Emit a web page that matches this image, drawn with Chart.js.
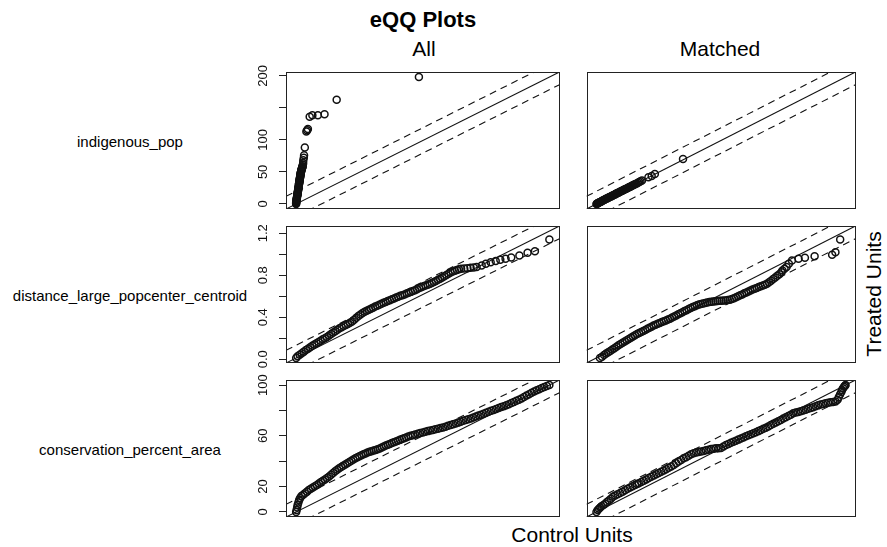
<!DOCTYPE html>
<html>
<head>
<meta charset="utf-8">
<script src="https://cdn.jsdelivr.net/npm/chart.js@4.4.1/dist/chart.umd.min.js"></script>
<style>
  html, body { margin: 0; padding: 0; background: #fff; }
  #wrap { position: relative; width: 887px; height: 547px; overflow: hidden;
          font-family: "Liberation Sans", Arial, Helvetica, sans-serif; color: #000; }
  #wrap canvas { position: absolute; }
  .lbl { position: absolute; white-space: nowrap; line-height: 1; transform: translate(-50%, -50%); }
</style>
</head>
<body>
<div id="wrap">
  <div class="lbl" style="left:423px; top:20px; font-size:22px; font-weight:bold;">eQQ Plots</div>
  <div class="lbl" style="left:424px; top:48px; font-size:21px;">All</div>
  <div class="lbl" style="left:720px; top:48px; font-size:21px;">Matched</div>
  <div class="lbl" style="left:572px; top:534px; font-size:21px;">Control Units</div>
  <div class="lbl" style="left:873px; top:294px; font-size:21px; transform: translate(-50%, -50%) rotate(-90deg);">Treated Units</div>
</div>
<script>
// Covariates shown, one per row
const variables = ['indigenous_pop', 'distance_large_popcenter_centroid', 'conservation_percent_area'];
const sampleNames = ['All', 'Matched'];

// Y-axis ticks per covariate (blank label = tick mark only)
const indigenousTicks = [0, 50, 100, 150, 200];
const indigenousTickLabels = ['0', '50', '100', '', '200'];
const distanceTicks = [0, 0.2, 0.4, 0.6, 0.8, 1.0, 1.2];
const distanceTickLabels = ['0.0', '', '0.4', '', '0.8', '', '1.2'];
const conservationTicks = [0, 20, 40, 60, 80, 100];
const conservationTickLabels = ['0', '20', '', '60', '', '100'];

// Empirical quantile pairs: [control quantile, treated quantile]
const indigenousAll = [
  [0,0],[0,1],[0,2],[0.1,3],[0.2,4],[0.2,5],[0.3,6],[0.4,7],[0.5,8],[0.6,9],[0.6,10],[0.8,12],
  [0.9,13],[1,14],[1,15],[1.1,16],[1.2,17],[1.3,18],[1.4,19],[1.4,20],[1.6,22],[1.7,23],[1.8,24],
  [1.8,25],[1.9,26],[2,27],[2.1,28],[2.2,30],[2.2,31],[2.3,32],[2.4,33],[2.5,34],[2.6,35],[2.6,36],
  [2.7,37],[2.8,38],[2.9,39],[3,40],[3,41],[3.1,42],[3.2,43],[3.3,44],[3.4,45],[3.4,46],[3.5,47],
  [3.6,48],[3.7,49],[3.8,50],[3.9,51],[4,52],[4.2,53],[4.3,54],[4.5,55],[4.6,56],[4.8,57],[4.9,58],
  [5.1,59],[5.3,61],[5.5,64],[5.6,68],[6,72],[6.2,76],[6.8,88],[8,113],[8.6,115],[9.2,117],
  [10.6,136],[12.7,138.5],[17,138.5],[22.2,140],[31.7,162.5],[96,198]
];
const indigenousMatched = [
  [0,0],[0.3,0.4],[0.8,0.6],[1,1.2],[1.5,1.6],[2,2.2],[2.5,2.6],[3,3.1],[3.6,3.4],[4,4.2],[4.6,4.8],
  [5.2,5.3],[5.8,6.1],[6.4,6.6],[7,7.2],[7.6,7.9],[8.2,8.3],[8.8,9],[9.4,9.6],[10,10.3],[10.7,10.8],
  [11.3,11.5],[12,12.1],[12.6,12.8],[13.2,13.5],[13.9,14],[14.5,14.8],[15.2,15.3],[15.8,16.1],
  [16.5,16.6],[17.1,17.4],[17.8,18],[18.5,18.6],[19.1,19.5],[19.8,20],[20.5,20.6],[21.2,21.4],
  [21.9,22],[22.6,22.8],[23.3,23.4],[24,24.2],[24.8,24.8],[25.5,25.6],[26.2,26.4],[27,27],
  [27.8,27.9],[28.6,28.7],[29.4,29.5],[30.2,30.4],[31,31.2],[32,32],[33,33.1],[34,34.2],[35,35.3],
  [36.2,36.4],[41.3,41.6],[43.9,43.6],[46.4,46.7],[68.8,70.1]
];
const distanceAll = [
  [0.013,0.013],[0.02,0.028],[0.03,0.044],[0.04,0.058],[0.05,0.073],[0.06,0.088],[0.07,0.1],
  [0.08,0.114],[0.09,0.128],[0.1,0.14],[0.11,0.152],[0.12,0.165],[0.13,0.177],[0.14,0.19],
  [0.15,0.201],[0.16,0.213],[0.17,0.226],[0.18,0.24],[0.19,0.254],[0.2,0.268],[0.21,0.282],
  [0.22,0.295],[0.23,0.306],[0.24,0.317],[0.25,0.327],[0.26,0.337],[0.27,0.348],[0.28,0.361],
  [0.29,0.377],[0.3,0.396],[0.31,0.413],[0.32,0.427],[0.33,0.44],[0.34,0.452],[0.35,0.462],
  [0.36,0.472],[0.37,0.482],[0.38,0.492],[0.39,0.502],[0.4,0.511],[0.41,0.52],[0.42,0.53],
  [0.43,0.538],[0.44,0.546],[0.45,0.555],[0.46,0.563],[0.47,0.571],[0.48,0.579],[0.49,0.588],
  [0.5,0.596],[0.51,0.604],[0.52,0.611],[0.53,0.618],[0.54,0.626],[0.55,0.634],[0.56,0.642],
  [0.57,0.65],[0.58,0.658],[0.59,0.668],[0.6,0.678],[0.61,0.687],[0.62,0.695],[0.63,0.703],
  [0.64,0.71],[0.65,0.718],[0.66,0.727],[0.67,0.736],[0.68,0.746],[0.69,0.757],[0.7,0.768],
  [0.71,0.779],[0.72,0.79],[0.73,0.803],[0.74,0.815],[0.75,0.826],[0.76,0.836],[0.77,0.844],
  [0.78,0.851],[0.79,0.857],[0.8,0.862],[0.815,0.865],[0.83,0.868],[0.845,0.871],[0.86,0.874],
  [0.874,0.878],[0.898,0.894],[0.918,0.91],[0.941,0.925],[0.965,0.935],[0.987,0.948],
  [1.012,0.957],[1.039,0.97],[1.078,0.989],[1.117,1.014],[1.152,1.029],[1.221,1.14]
];
const distanceMatched = [
  [0.03,0.013],[0.04,0.025],[0.05,0.04],[0.06,0.055],[0.07,0.068],[0.08,0.08],[0.09,0.093],
  [0.1,0.105],[0.11,0.12],[0.12,0.134],[0.13,0.146],[0.14,0.158],[0.15,0.17],[0.16,0.182],
  [0.17,0.194],[0.18,0.206],[0.19,0.218],[0.2,0.23],[0.21,0.24],[0.22,0.25],[0.23,0.26],
  [0.24,0.27],[0.25,0.28],[0.26,0.29],[0.27,0.3],[0.28,0.311],[0.29,0.321],[0.3,0.33],
  [0.31,0.338],[0.32,0.346],[0.33,0.354],[0.34,0.362],[0.35,0.37],[0.36,0.378],[0.37,0.387],
  [0.38,0.397],[0.39,0.407],[0.4,0.418],[0.41,0.428],[0.42,0.439],[0.43,0.449],[0.44,0.459],
  [0.45,0.468],[0.46,0.478],[0.47,0.488],[0.48,0.497],[0.49,0.506],[0.5,0.514],[0.51,0.521],
  [0.52,0.527],[0.53,0.532],[0.54,0.537],[0.55,0.541],[0.56,0.545],[0.57,0.548],[0.58,0.551],
  [0.59,0.553],[0.6,0.555],[0.61,0.557],[0.62,0.558],[0.63,0.559],[0.64,0.561],[0.65,0.564],
  [0.66,0.568],[0.67,0.574],[0.68,0.581],[0.69,0.59],[0.7,0.6],[0.71,0.609],[0.72,0.618],
  [0.73,0.628],[0.74,0.637],[0.75,0.646],[0.76,0.655],[0.77,0.664],[0.78,0.672],[0.79,0.68],
  [0.8,0.688],[0.81,0.696],[0.82,0.703],[0.83,0.71],[0.84,0.72],[0.85,0.734],[0.86,0.749],
  [0.87,0.764],[0.88,0.779],[0.89,0.795],[0.9,0.81],[0.91,0.828],[0.915,0.846],[0.925,0.862],
  [0.935,0.878],[0.946,0.91],[0.961,0.941],[0.993,0.957],[1.024,0.967],[1.071,0.982],
  [1.156,0.995],[1.172,1.02],[1.195,1.14]
];
const conservationAll = [
  [0,0],[0.2,1.5],[0.4,3.5],[0.6,5.5],[0.9,7.5],[1.2,9.5],[1.6,11],[2.1,12.5],[2.8,13.6],[3.5,14.8],
  [4.3,16],[5,17.2],[5.8,18.2],[6.6,19.2],[7.4,20.3],[8.2,21.3],[9,22.4],[9.8,23.5],[10.6,24.6],
  [11.4,25.6],[12.2,26.8],[13,28],[13.8,29.3],[14.6,30.6],[15.4,32],[16.2,33.3],[17,34.5],
  [17.8,35.5],[18.6,36.5],[19.4,37.4],[20.2,38.3],[21,39.3],[21.8,40.3],[22.6,41.3],[23.4,42.3],
  [24.2,43.1],[25,43.9],[25.8,44.6],[26.6,45.4],[27.4,46.1],[28.2,46.8],[29,47.4],[29.8,47.9],
  [30.6,48.4],[31.4,48.9],[32.2,49.4],[33,50],[33.8,50.7],[34.6,51.5],[35.4,52.3],[36.2,53],
  [37,53.6],[37.8,54.3],[38.6,55],[39.4,55.6],[40.2,56.2],[41,56.8],[41.8,57.5],[42.6,58.1],
  [43.4,58.7],[44.3,59.4],[45.2,60],[46.1,60.5],[47,61.1],[48,61.7],[49,62.2],[50,62.7],[51,63.2],
  [52,63.7],[53,64.2],[54,64.6],[55,65.1],[56,65.6],[57,66.1],[58,66.6],[59,67.2],[60,67.9],
  [61,68.5],[62,69.1],[63,69.7],[64,70.4],[65,71.1],[66,71.8],[67,72.4],[68,73],[69,73.7],
  [70,74.5],[71,75.2],[72,76],[73,76.7],[74,77.4],[75,78.2],[76,79],[77,79.7],[78,80.3],[79,81.1],
  [80,81.9],[81,82.7],[82,83.4],[83,84.1],[84,84.9],[85,85.8],[86,86.7],[87,87.6],[88,88.5],
  [89,89.4],[90,90.6],[91,91.7],[92,92.8],[93,93.9],[94,95],[95,95.9],[96,96.8],[97,97.6],
  [98,98.4],[99,99.2],[100,100]
];
const conservationMatched = [
  [0,0],[0.5,1.5],[1,2.5],[1.5,3.5],[2,4.5],[2.8,5.5],[3.5,6.5],[4.2,7.8],[5,9],[5.8,10.4],[6.6,12],
  [7.5,13],[8.5,14],[9.5,15],[10.5,16],[11.5,17.1],[12.5,18.2],[13.5,19.3],[14.5,20.3],[15.5,21.2],
  [16.3,22],[17,22.6],[18,23.6],[19,24.6],[20,25.6],[21,26.7],[22,27.8],[23,28.8],[24,29.7],
  [25,30.6],[26,31.6],[27,32.7],[28,33.7],[29,34.8],[30,35.8],[31,37],[32,38.4],[33,39.8],[34,41],
  [35,42.3],[36,43.2],[37,44.3],[38,45.4],[39,46.2],[40,46.8],[41,47.2],[42,47.7],[43,48.1],
  [44,48.6],[45,49.1],[46,49.6],[47,49.9],[48,50.1],[49,50.2],[50,50.4],[51,51.6],[52,52.8],
  [53,53.6],[54,54.5],[55,55.3],[56,56.1],[57,57],[58,57.9],[59,58.7],[60,59.6],[61,60.5],
  [62,61.3],[63,62.1],[64,62.9],[65,63.7],[66,64.6],[67,65.5],[68,66.4],[69,67.3],[70,68.6],
  [71,69.6],[72,70.5],[73,71.5],[74,72.5],[75,73.6],[76,74.6],[77,75.6],[78,76.7],[79,77.7],
  [80,78.3],[81,78.8],[82,79.3],[83,80],[84,80.6],[85,81.3],[86,81.9],[87,82.6],[88,83.3],[89,84],
  [90,84.6],[91,85.1],[92,85.6],[93,86],[94,86.4],[95,86.7],[96,87],[96.8,88.5],[97.3,90.5],
  [97.8,92.5],[98.3,94.5],[98.6,96.1],[99,97.5],[99.4,98.6],[99.8,99.5],[100,100]
];

// Panel grid geometry (page pixels)
const colLeft = [286, 581];
const colWidth = [277, 278];
const rowTop = [72, 226, 380];
const panelHeight = 137;
const axisWidth = 50;
const padV = 20;
const padR = 2;

const rows = [
  { name: variables[0], all: indigenousAll, matched: indigenousMatched, ticks: indigenousTicks, labels: indigenousTickLabels, pad: 5 },
  { name: variables[1], all: distanceAll, matched: distanceMatched, ticks: distanceTicks, labels: distanceTickLabels, pad: 7 },
  { name: variables[2], all: conservationAll, matched: conservationMatched, ticks: conservationTicks, labels: conservationTickLabels, pad: 5 }
];

Chart.defaults.font.family = '"Liberation Sans", Arial, Helvetica, sans-serif';
Chart.defaults.color = '#000';

// Frame around each plotting region
const panelBox = {
  id: 'panelBox',
  afterDraw(chart) {
    const { ctx, chartArea: a } = chart;
    ctx.save();
    ctx.strokeStyle = '#222';
    ctx.lineWidth = 1;
    ctx.strokeRect(Math.round(a.left) + 0.5, Math.round(a.top) + 0.5,
                   Math.round(a.width) - 1, Math.round(a.height) - 1);
    ctx.restore();
  }
};

const wrap = document.getElementById('wrap');

rows.forEach((row, r) => {
  // Shared limits: full range of both samples, padded 4% like base R plots
  const vals = [];
  [row.all, row.matched].forEach(set => set.forEach(p => { vals.push(p[0], p[1]); }));
  const vmin = Math.min(...vals), vmax = Math.max(...vals);
  const span = vmax - vmin;
  const lo = vmin - 0.04 * span, hi = vmax + 0.04 * span;
  const band = 0.1 * span;

  // Row label
  const lab = document.createElement('div');
  lab.className = 'lbl';
  lab.style.left = '130px';
  lab.style.top = (rowTop[r] + panelHeight / 2) + 'px';
  lab.style.fontSize = '15px';
  lab.textContent = row.name;
  wrap.appendChild(lab);

  [row.all, row.matched].forEach((pairs, c) => {
    const withAxis = c === 0;
    const axW = withAxis ? axisWidth : 0;
    const cv = document.createElement('canvas');
    const w = axW + colWidth[c] + padR;
    const h = panelHeight + 2 * padV;
    cv.width = w; cv.height = h;
    cv.style.width = w + 'px'; cv.style.height = h + 'px';
    cv.style.left = (colLeft[c] - axW) + 'px';
    cv.style.top = (rowTop[r] - padV) + 'px';
    cv.setAttribute('aria-label', row.name + ' — ' + sampleNames[c]);
    wrap.appendChild(cv);

    const lineStyle = { showLine: true, pointRadius: 0, borderColor: '#111', borderWidth: 1.1, fill: false };

    new Chart(cv, {
      type: 'scatter',
      data: {
        datasets: [
          Object.assign({ data: [{ x: lo, y: lo }, { x: hi, y: hi }] }, lineStyle),
          Object.assign({ data: [{ x: lo, y: lo + band }, { x: hi, y: hi + band }], borderDash: [7, 5] }, lineStyle),
          Object.assign({ data: [{ x: lo, y: lo - band }, { x: hi, y: hi - band }], borderDash: [7, 5] }, lineStyle),
          {
            data: pairs.map(p => ({ x: p[0], y: p[1] })),
            pointStyle: 'circle',
            pointRadius: 3.5,
            pointBorderWidth: 1.5,
            pointBorderColor: '#111',
            pointBackgroundColor: 'rgba(0,0,0,0)',
            showLine: false
          }
        ]
      },
      options: {
        responsive: false,
        animation: false,
        events: [],
        layout: { padding: { left: 0, right: padR, top: padV, bottom: padV } },
        plugins: { legend: { display: false }, tooltip: { enabled: false } },
        scales: {
          x: { type: 'linear', display: false, min: lo, max: hi },
          y: {
            type: 'linear',
            display: withAxis,
            min: lo, max: hi,
            afterBuildTicks: s => { s.ticks = row.ticks.map(v => ({ value: v })); },
            afterFit: s => { s.width = axW; },
            ticks: {
              autoSkip: false,
              minRotation: 90, maxRotation: 90,
              crossAlign: 'center',
              padding: row.pad,
              color: '#111',
              font: { size: 13 },
              callback: (v, i) => row.labels[i]
            },
            grid: { drawOnChartArea: false, drawTicks: true, tickLength: 7, color: '#222', lineWidth: 1 },
            border: { display: false }
          }
        }
      },
      plugins: [panelBox]
    });
  });
});
</script>
</body>
</html>
